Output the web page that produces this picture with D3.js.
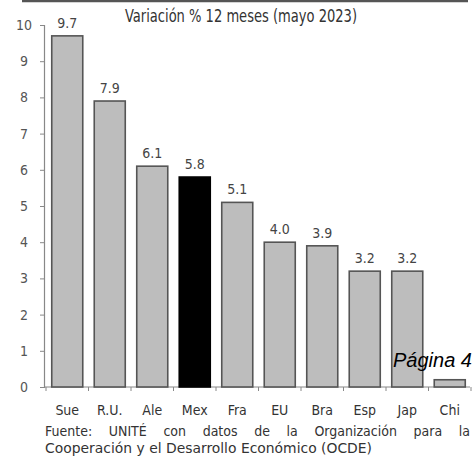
<!DOCTYPE html>
<html>
<head>
<meta charset="utf-8">
<script src="https://cdn.jsdelivr.net/npm/d3@7"></script>
<style>
  html, body { margin: 0; padding: 0; background: #fff; }
  svg { display: block; }
  .cond { font-family: "DejaVu Sans Condensed", "Liberation Sans Narrow", sans-serif; font-stretch: condensed; }
</style>
</head>
<body>
<svg id="chart" width="475" height="463"></svg>
<script>
// Inflación anual por país, mayo 2023
const countries = ["Sue", "R.U.", "Ale", "Mex", "Fra", "EU", "Bra", "Esp", "Jap", "Chi"];
const inflation = [9.7, 7.9, 6.1, 5.8, 5.1, 4.0, 3.9, 3.2, 3.2, 0.2];
const valueLabels = ["9.7", "7.9", "6.1", "5.8", "5.1", "4.0", "3.9", "3.2", "3.2", null];
const yTicks = [0, 1, 2, 3, 4, 5, 6, 7, 8, 9, 10];
const highlight = "Mex";

const titleText = "Variación % 12 meses (mayo 2023)";
const sourceLines = [
  "Fuente: UNITÉ con datos de la Organización para la",
  "Cooperación y el Desarrollo Económico (OCDE)"
];
const pageText = "Página 4";

const svg = d3.select("#chart");

const x = d3.scaleBand()
  .domain(countries)
  .range([46, 471])
  .paddingInner(0.27)
  .paddingOuter(0.135);

const y = d3.scaleLinear().domain([0, 10]).range([387, 25]);

// Top rule
svg.append("line")
  .attr("x1", 22).attr("x2", 468)
  .attr("y1", 1).attr("y2", 1)
  .attr("stroke", "#555").attr("stroke-width", 2.5);

// Title
svg.append("text")
  .attr("class", "cond")
  .attr("x", 241).attr("y", 22)
  .attr("text-anchor", "middle")
  .attr("font-size", 17)
  .attr("fill", "#333")
  .attr("textLength", 232)
  .attr("lengthAdjust", "spacingAndGlyphs")
  .text(titleText);

// Y axis
const yAxis = svg.append("g")
  .attr("transform", "translate(44,0)")
  .call(d3.axisLeft(y).tickValues(yTicks).tickSize(4).tickPadding(11).tickFormat(d3.format("d")));
yAxis.select(".domain").attr("stroke", "#888").attr("stroke-width", 1.2);
yAxis.selectAll(".tick line").attr("stroke", "#888");
yAxis.selectAll(".tick text")
  .attr("class", "cond")
  .attr("font-size", 14)
  .attr("fill", "#555")
  .attr("text-anchor", "middle")
  .attr("dx", -5);

// X axis (ticks at band boundaries)
const step = x.step();
const boundaries = d3.range(countries.length + 1).map(i => x(countries[0]) - (x.paddingInner() * step) / 2 + i * step);
svg.append("line")
  .attr("x1", 44).attr("x2", 470)
  .attr("y1", y(0)).attr("y2", y(0))
  .attr("stroke", "#888").attr("stroke-width", 1.2);
svg.append("g").selectAll("line")
  .data(boundaries)
  .join("line")
  .attr("x1", d => d).attr("x2", d => d)
  .attr("y1", y(0)).attr("y2", y(0) + 4)
  .attr("stroke", "#888");

// Bars
svg.append("g").selectAll("rect")
  .data(countries)
  .join("rect")
  .attr("x", d => x(d))
  .attr("width", x.bandwidth())
  .attr("y", (d, i) => y(inflation[i]))
  .attr("height", (d, i) => y(0) - y(inflation[i]))
  .attr("fill", d => d === highlight ? "#000" : "#bdbdbd")
  .attr("stroke", d => d === highlight ? "#000" : "#555")
  .attr("stroke-width", 1.6);

// Value labels
svg.append("g").selectAll("text")
  .data(countries.filter((d, i) => valueLabels[i] !== null))
  .join("text")
  .attr("class", "cond")
  .attr("x", d => x(d) + x.bandwidth() / 2)
  .attr("y", d => y(inflation[countries.indexOf(d)]) - 8)
  .attr("text-anchor", "middle")
  .attr("font-size", 14)
  .attr("fill", "#444")
  .text(d => valueLabels[countries.indexOf(d)]);

// Category labels
svg.append("g").selectAll("text")
  .data(countries)
  .join("text")
  .attr("class", "cond")
  .attr("x", d => x(d) + x.bandwidth() / 2)
  .attr("y", 415)
  .attr("text-anchor", "middle")
  .attr("font-size", 14)
  .attr("fill", "#333")
  .text(d => d);

// Source note: first line justified across the width
const src1 = svg.append("text")
  .attr("class", "cond")
  .attr("x", 45).attr("y", 436)
  .attr("font-size", 14)
  .attr("fill", "#333")
  .text(sourceLines[0]);
const natural = src1.node().getComputedTextLength();
const gaps = sourceLines[0].split(" ").length - 1;
const target = 470 - 45;
if (natural < target) src1.attr("word-spacing", (target - natural) / gaps);
else src1.attr("textLength", target).attr("lengthAdjust", "spacingAndGlyphs");

svg.append("text")
  .attr("class", "cond")
  .attr("x", 45).attr("y", 453)
  .attr("font-size", 14)
  .attr("fill", "#333")
  .attr("textLength", 327)
  .attr("lengthAdjust", "spacingAndGlyphs")
  .text(sourceLines[1]);

// Page marker
svg.append("text")
  .attr("x", 393).attr("y", 367)
  .attr("font-family", "Liberation Sans, Arial, sans-serif")
  .attr("font-style", "italic")
  .attr("font-size", 20)
  .attr("fill", "#000")
  .text(pageText);
</script>
</body>
</html>
